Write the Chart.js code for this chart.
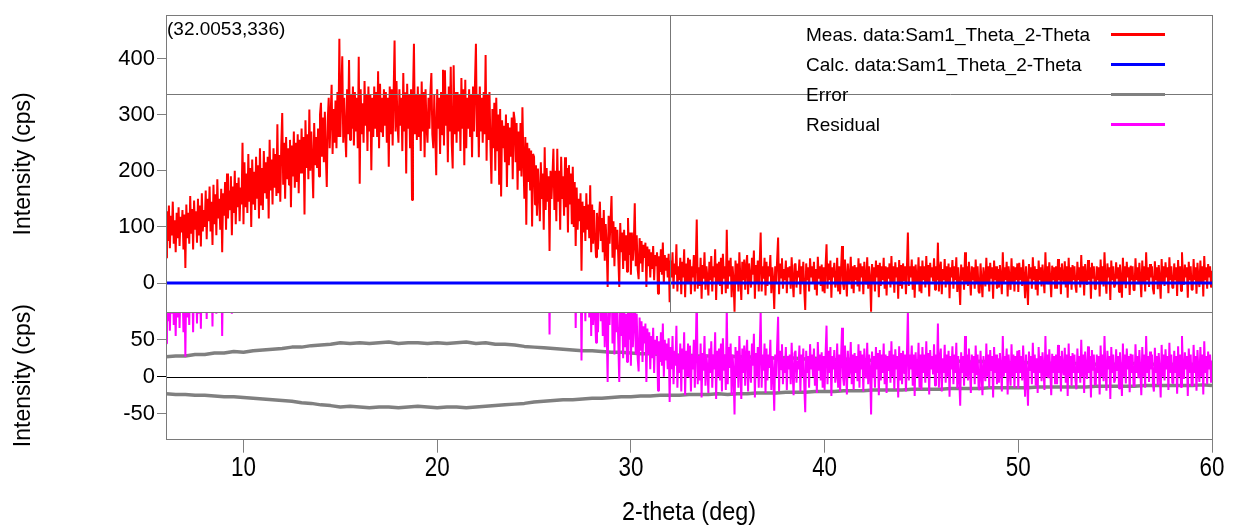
<!DOCTYPE html>
<html>
<head>
<meta charset="utf-8">
<title>Sam1 Theta 2-Theta</title>
<script src="https://cdn.jsdelivr.net/npm/chart.js@4.4.1/dist/chart.umd.min.js"></script>
<style>
  html, body { margin: 0; padding: 0; background: #fff; }
  canvas { display: block; }
</style>
</head>
<body>
<canvas id="xrdChart" width="1234" height="531"></canvas>
<script>
// ===== SCAN DATA =====
const scanStart = 6;     // first 2-theta of the scan (deg)
const scanStep = 0.05;   // step between measured points (deg)

// measured intensity (cps), one row per degree (20 points: x.00 ... x.95), last value is 60.00
const measured = [
  45, 128, 75, 138, 62, 120, 85, 145, 70, 112, 55, 125, 80, 135, 66, 118, 90, 130, 60, 122,
  27, 140, 80, 125, 70, 155, 88, 132, 60, 147, 95, 128, 72, 150, 85, 138, 65, 160, 92, 130,
  100, 165, 78, 150, 110, 172, 92, 145, 68, 175, 105, 158, 85, 185, 115, 150, 95, 168, 55, 160,
  120, 180, 95, 195, 115, 165, 130, 190, 85, 172, 125, 200, 105, 178, 135, 188, 110, 170, 140, 250,
  105, 215, 135, 195, 125, 230, 145, 205, 100, 220, 140, 198, 130, 225, 150, 210, 115, 240, 138, 205,
  130, 235, 160, 215, 150, 225, 115, 255, 165, 220, 140, 240, 170, 230, 155, 283, 160, 228, 145, 245,
  303, 175, 250, 150, 260, 185, 240, 175, 255, 135, 245, 190, 270, 170, 250, 180, 265, 160, 255, 195,
  275, 195, 260, 122, 290, 205, 265, 185, 309, 200, 270, 215, 151, 285, 210, 260, 205, 275, 190, 300,
  321, 225, 295, 215, 305, 230, 171, 290, 330, 240, 300, 353, 230, 310, 250, 325, 240, 340, 260, 435,
  260, 340, 404, 250, 330, 270, 224, 345, 265, 397, 255, 335, 275, 350, 245, 340, 270, 330, 240, 403,
  177, 345, 265, 320, 250, 360, 280, 335, 235, 350, 270, 335, 201, 330, 260, 350, 275, 340, 260, 377,
  240, 355, 270, 330, 260, 345, 280, 340, 250, 330, 207, 350, 265, 345, 245, 335, 432, 270, 360, 285,
  250, 345, 280, 330, 235, 374, 270, 340, 195, 355, 275, 335, 240, 345, 148, 330, 426, 265, 335, 255,
  350, 260, 335, 235, 359, 270, 340, 224, 345, 280, 250, 330, 275, 340, 374, 265, 240, 335, 270, 192,
  345, 275, 330, 230, 340, 265, 380, 245, 379, 280, 335, 215, 350, 270, 385, 250, 204, 388, 265, 340,
  250, 340, 270, 335, 235, 365, 275, 345, 210, 362, 240, 330, 275, 345, 260, 335, 224, 350, 270, 355,
  426, 260, 335, 224, 350, 270, 330, 250, 340, 265, 406, 218, 335, 255, 340, 245, 177, 310, 240, 321,
  200, 330, 235, 300, 175, 310, 154, 290, 240, 280, 215, 300, 171, 285, 210, 277, 225, 295, 185, 305,
  290, 215, 285, 166, 270, 200, 285, 190, 313, 220, 150, 260, 104, 250, 180, 240, 165, 236, 101, 230,
  225, 140, 210, 120, 204, 160, 110, 215, 150, 195, 95, 242, 130, 205, 145, 190, 57, 200, 150, 190,
  239, 130, 200, 110, 239, 145, 200, 95, 225, 150, 190, 120, 224, 135, 205, 90, 210, 140, 195, 105,
  207, 100, 180, 66, 170, 95, 150, 110, 160, 22, 145, 90, 137, 75, 160, 95, 140, 80, 174, 55,
  140, 70, 130, 85, 46, 125, 60, 110, 145, 75, 116, 55, 130, 40, 105, 65, -7, 120, 70, 110,
  155, 45, 110, 30, 100, 60, 95, 45, -7, 107, 55, 90, 25, 95, 40, 85, 20, 116, 50, 90,
  15, 90, 40, 70, 142, 30, 85, 25, 7, 80, 35, 75, 20, 68, 45, 72, -7, 65, 30, 60,
  10, 55, 25, 66, 5, 50, 30, 55, -19, 48, 20, 60, 15, 72, 0, 50, 22, 45, 10, 52,
  -34, 40, 10, 55, -10, 35, 15, 69, -15, 30, 5, 45, -20, 38, 10, 60, -25, 35, 0, 45,
  0, 42, -20, 30, 10, 50, -15, 35, 113, -10, 28, -5, 45, -28, 32, 8, 55, -12, 30, 10,
  -22, 38, 5, 48, -15, 30, 10, 60, -30, 35, 0, 38, -5, 45, -20, 52, 8, 30, -18, 95,
  -10, 40, 12, 45, -25, 30, 5, -51, 40, 0, 35, -15, 55, 10, -30, 38, 5, 42, -12, 30,
  50, -20, 35, 10, -8, 45, 15, 58, -28, 32, 0, 40, -15, 35, 90, -15, 30, 8, 45, -22,
  38, -5, 30, 12, 50, -18, 28, 5, -46, 30, 0, 42, 81, -20, 35, 10, 44, -10, 25, 5,
  40, -18, 28, 10, 30, -10, 46, 5, -25, 32, 35, -8, 22, 10, 42, -20, 30, 0, 38, -12,
  -48, 35, 5, 28, -15, 44, 10, 30, 0, 38, -12, 25, -22, 47, 8, 30, -5, 33, -15, 28,
  -18, 30, 69, -10, 35, 5, 40, -26, 28, 10, 36, -8, 2, 45, -15, 30, -20, 25, 66, 0,
  -12, 42, 10, -24, 35, 0, 8, 47, -10, 30, -18, 32, 5, 28, -6, 44, -15, 35, 10, 30,
  -20, 38, 5, -2, 46, -10, 30, 8, -51, 34, 0, 28, -15, 40, 10, 32, -25, 36, -5, 30,
  5, 45, -10, 30, -22, 28, 8, 35, -8, 48, 0, 30, -17, 37, 10, 28, -28, 41, -5, 32,
  -10, 35, 5, 30, -20, 28, 90, -5, 30, 10, 42, -12, 30, -26, 33, 5, 0, 46, -15, 30,
  -18, 40, 5, 30, -8, 48, 0, 32, -24, 36, 10, 28, 3, 44, -12, 30, 5, 72, -15, 25,
  38, -20, 25, 5, 43, -8, 30, 0, 35, -27, 28, 10, 41, -10, 30, 5, 46, -16, 28, 0,
  -39, 33, 5, 28, -12, 55, 0, 30, -5, 38, 10, -22, 30, 5, 28, -10, 42, 2, 30, -15,
  -18, 35, 5, -25, 28, 10, -6, 45, 0, 30, -15, 36, 8, 28, -28, 40, 5, 30, -10, 25,
  -8, 32, 10, -20, 55, 0, 28, 5, 38, -24, 30, 8, -12, 44, 0, 30, -15, 28, 5, 35,
  -16, 36, 5, 28, -5, 42, 10, -27, 30, 0, -39, 34, 8, 28, -10, 46, 5, 30, -12, 25,
  -22, 40, 5, 28, -6, 33, 10, -18, 55, 0, 30, -2, 37, 8, -25, 31, 5, 28, -10, 30,
  -10, 43, 5, 28, -20, 35, 10, 2, 39, -8, 30, -26, 45, 0, 28, -12, 32, 5, 30, -5,
  -17, 38, 5, 28, -8, 50, 0, 30, -22, 34, 10, -3, 41, 5, 28, -28, 36, 8, 30, -10,
  -11, 30, 5, 28, -24, 42, 0, 30, -6, 55, 8, -19, 35, 10, 28, -30, 40, 5, 30, -8,
  -4, 37, 8, 28, -16, 33, 5, -26, 45, 0, 30, -9, 38, 10, 28, -21, 31, 5, 30, -12,
  -13, 44, 5, 28, -2, 36, 8, -25, 40, 0, 30, -15, 55, 5, 28, -7, 34, 10, 30, -10,
  -20, 39, 5, 28, -11, 32, 8, -28, 43, 0, 30, -5, 37, 10, 28, -18, 46, 5, 30, -8,
  -9, 35, 5, 28, -23, 41, 0, 30, -14, 55, 8, -3, 33, 10, 28, -26, 38, 5, 30, -12,
  -12, 43, 5, 28, -19, 36, 8, -7, 40, 0, 30, -24, 48, 5, 28, -10, 34, 10, 30, -8,
  22
];

// calculated pattern: flat at zero over the whole scan
const calcTheta = [6, 60];
const calculated = [0, 0];

// error envelope (lower panel), every 0.5 deg from 6.0 to 60.0
const errorStep = 0.5;
const errorUpper = [
  27, 28, 28, 30, 30, 32, 32, 34, 33, 35,
  36, 37, 38, 40, 40, 42, 43, 44, 46, 45,
  46, 45, 46, 47, 45, 46, 46, 45, 46, 45,
  46, 47, 45, 46, 44, 44, 43, 41, 40, 39,
  38, 37, 36, 35, 35, 34, 33, 33, 32, 31,
  31, 30, 30, 29, 29, 28, 28, 27, 28, 27,
  27, 26, 26, 25, 26, 25, 24, 25, 24, 23,
  24, 23, 23, 22, 23, 22, 22, 21, 22, 21,
  21, 22, 21, 20, 21, 20, 20, 19, 20, 19,
  19, 18, 19, 18, 18, 18, 17, 18, 17, 17,
  18, 17, 17, 16, 17, 16, 17, 16, 17
];
const errorLower = [
  -23, -24, -24, -25, -25, -26, -27, -27, -28, -29,
  -30, -31, -32, -33, -35, -36, -38, -39, -41, -40,
  -41, -42, -41, -41, -42, -41, -40, -41, -42, -41,
  -41, -42, -41, -40, -39, -38, -37, -36, -34, -33,
  -32, -31, -31, -30, -29, -29, -28, -27, -27, -26,
  -26, -25, -25, -25, -24, -24, -24, -23, -24, -23,
  -23, -22, -22, -22, -21, -21, -21, -20, -20, -20,
  -19, -19, -19, -18, -18, -18, -18, -17, -17, -17,
  -17, -16, -16, -16, -16, -15, -15, -15, -15, -15,
  -14, -14, -14, -14, -14, -14, -13, -13, -13, -13,
  -13, -12, -12, -12, -12, -12, -12, -11, -12
];

// residual = measured - calculated (calculated is zero everywhere)
const residual = measured.map(v => v - calculated[0]);

// ===== AXES / CURSOR =====
const xTicks = [10, 20, 30, 40, 50, 60];
const measTicks = [0, 100, 200, 300, 400];
const resTicks = [-50, 0, 50];
const cursorX = 32.0053;
const cursorY = 336;

const seriesNames = {
  meas: 'Meas. data:Sam1_Theta_2-Theta',
  calc: 'Calc. data:Sam1_Theta_2-Theta',
  error: 'Error',
  residual: 'Residual'
};
const seriesColors = { meas: '#ff0000', calc: '#0000ff', error: '#808080', residual: '#ff00ff' };

const toPoints = (vals, start, step) => vals.map((v, i) => ({ x: +(start + i * step).toFixed(2), y: v }));

const FONT = "'Liberation Sans', Arial, sans-serif";

// ===== FRAMES, CURSOR, LEGEND, X LABELS =====
const panelDecor = {
  id: 'panelDecor',
  beforeDatasetsDraw(chart) {
    const { ctx, scales: { x, yRes } } = chart;
    const y0 = Math.round(yRes.getPixelForValue(0)) + 0.5;
    ctx.save();
    ctx.strokeStyle = '#000';
    ctx.lineWidth = 1;
    ctx.beginPath();
    ctx.moveTo(x.left, y0);
    ctx.lineTo(x.right, y0);
    ctx.stroke();
    ctx.restore();
  },
  afterDatasetsDraw(chart) {
    const { ctx, scales: { x, yMeas, yRes } } = chart;
    ctx.save();

    // cursor cross in the upper panel
    const cx = Math.round(x.getPixelForValue(cursorX)) + 0.5;
    const cy = Math.round(yMeas.getPixelForValue(cursorY)) + 0.5;
    ctx.strokeStyle = '#777';
    ctx.lineWidth = 1;
    ctx.beginPath();
    ctx.moveTo(cx, yMeas.top);
    ctx.lineTo(cx, yMeas.bottom);
    ctx.moveTo(x.left, cy);
    ctx.lineTo(x.right, cy);
    ctx.stroke();

    // panel frames
    ctx.strokeStyle = '#7a7a7a';
    [yMeas, yRes].forEach(s => {
      const top = Math.round(s.top) + 0.5;
      const bottom = Math.round(s.bottom) + 0.5;
      ctx.strokeRect(Math.round(x.left) + 0.5, top, Math.round(x.right - x.left), bottom - top);
    });

    // cursor readout
    ctx.fillStyle = '#000';
    ctx.font = '19px ' + FONT;
    ctx.textBaseline = 'alphabetic';
    ctx.textAlign = 'left';
    ctx.fillText('(' + cursorX + ',' + cursorY + ')', x.left + 1, yMeas.top + 20);

    // legend
    const rows = ['meas', 'calc', 'error', 'residual'];
    rows.forEach((key, i) => {
      const yLine = 34.5 + i * 30;
      ctx.fillStyle = '#000';
      ctx.fillText(seriesNames[key], 806, yLine + 6.5);
      ctx.strokeStyle = seriesColors[key];
      ctx.lineWidth = 3;
      ctx.beginPath();
      ctx.moveTo(1111, yLine);
      ctx.lineTo(1165, yLine);
      ctx.stroke();
    });
    ctx.restore();
  },
  afterDraw(chart) {
    // condensed tick labels and title under the x axis
    const { ctx, scales: { x } } = chart;
    ctx.save();
    ctx.fillStyle = '#000';
    ctx.textAlign = 'center';
    ctx.textBaseline = 'middle';
    ctx.font = '27px ' + FONT;
    xTicks.forEach(v => {
      ctx.save();
      ctx.translate(x.getPixelForValue(v), 469);
      ctx.scale(0.83, 1);
      ctx.fillText(String(v), 0, 0);
      ctx.restore();
    });
    ctx.font = '26px ' + FONT;
    ctx.translate((x.left + x.right) / 2, 513);
    ctx.scale(0.9, 1);
    ctx.fillText('2-theta (deg)', 0, 0);
    ctx.restore();
  }
};

// ===== CHART =====
const ctx = document.getElementById('xrdChart').getContext('2d');

new Chart(ctx, {
  type: 'line',
  data: {
    datasets: [
      {
        label: seriesNames.calc,
        data: calcTheta.map((t, i) => ({ x: t, y: calculated[i] })),
        yAxisID: 'yMeas',
        borderColor: seriesColors.calc,
        borderWidth: 3,
        order: 0
      },
      {
        label: seriesNames.meas,
        data: toPoints(measured, scanStart, scanStep),
        yAxisID: 'yMeas',
        borderColor: seriesColors.meas,
        borderWidth: 2,
        order: 1
      },
      {
        label: seriesNames.residual,
        data: toPoints(residual, scanStart, scanStep),
        yAxisID: 'yRes',
        borderColor: seriesColors.residual,
        borderWidth: 2,
        order: 2
      },
      {
        label: seriesNames.error,
        data: toPoints(errorUpper, scanStart, errorStep),
        yAxisID: 'yRes',
        borderColor: seriesColors.error,
        borderWidth: 3.5,
        order: 3
      },
      {
        label: seriesNames.error,
        data: toPoints(errorLower, scanStart, errorStep),
        yAxisID: 'yRes',
        borderColor: seriesColors.error,
        borderWidth: 3.5,
        order: 3
      }
    ]
  },
  options: {
    responsive: false,
    devicePixelRatio: 1,
    animation: false,
    layout: { padding: { top: 9.5, right: 22, bottom: 0, left: 0 } },
    elements: {
      point: { radius: 0 },
      line: { tension: 0, borderJoinStyle: 'bevel', fill: false }
    },
    plugins: {
      legend: { display: false },
      tooltip: { enabled: false }
    },
    scales: {
      x: {
        type: 'linear',
        min: 6,
        max: 60,
        afterBuildTicks: s => { s.ticks = xTicks.map(v => ({ value: v })); },
        afterFit: s => { s.height = 92.3; },
        grid: { drawOnChartArea: false, tickLength: 14, color: '#808080' },
        border: { display: false },
        ticks: { display: false }
      },
      yRes: {
        type: 'linear',
        position: 'left',
        stack: 'panels',
        stackWeight: 128,
        min: -83.7,
        max: 86.9,
        afterBuildTicks: s => { s.ticks = resTicks.map(v => ({ value: v })); },
        afterFit: s => { s.width = 166; },
        grid: {
          drawOnChartArea: false,
          tickLength: 9,
          color: c => (c.tick && c.tick.value === 0 ? '#000' : '#808080')
        },
        border: { display: false },
        ticks: { color: '#000', padding: 2, font: { family: FONT, size: 22 } },
        title: {
          display: true,
          text: 'Intensity (cps)',
          color: '#000',
          font: { family: FONT, size: 23, lineHeight: 1.2 },
          padding: { top: 10, bottom: 0 }
        }
      },
      yMeas: {
        type: 'linear',
        position: 'left',
        stack: 'panels',
        stackWeight: 301.2,
        min: -52.2,
        max: 477,
        afterBuildTicks: s => { s.ticks = measTicks.map(v => ({ value: v })); },
        afterFit: s => { s.width = 166; },
        grid: { drawOnChartArea: false, tickLength: 9, color: '#808080' },
        border: { display: false },
        ticks: { color: '#000', padding: 2, font: { family: FONT, size: 22 } },
        title: {
          display: true,
          text: 'Intensity (cps)',
          color: '#000',
          font: { family: FONT, size: 23, lineHeight: 1.2 },
          padding: { top: 10, bottom: 0 }
        }
      }
    }
  },
  plugins: [panelDecor]
});
</script>
</body>
</html>
